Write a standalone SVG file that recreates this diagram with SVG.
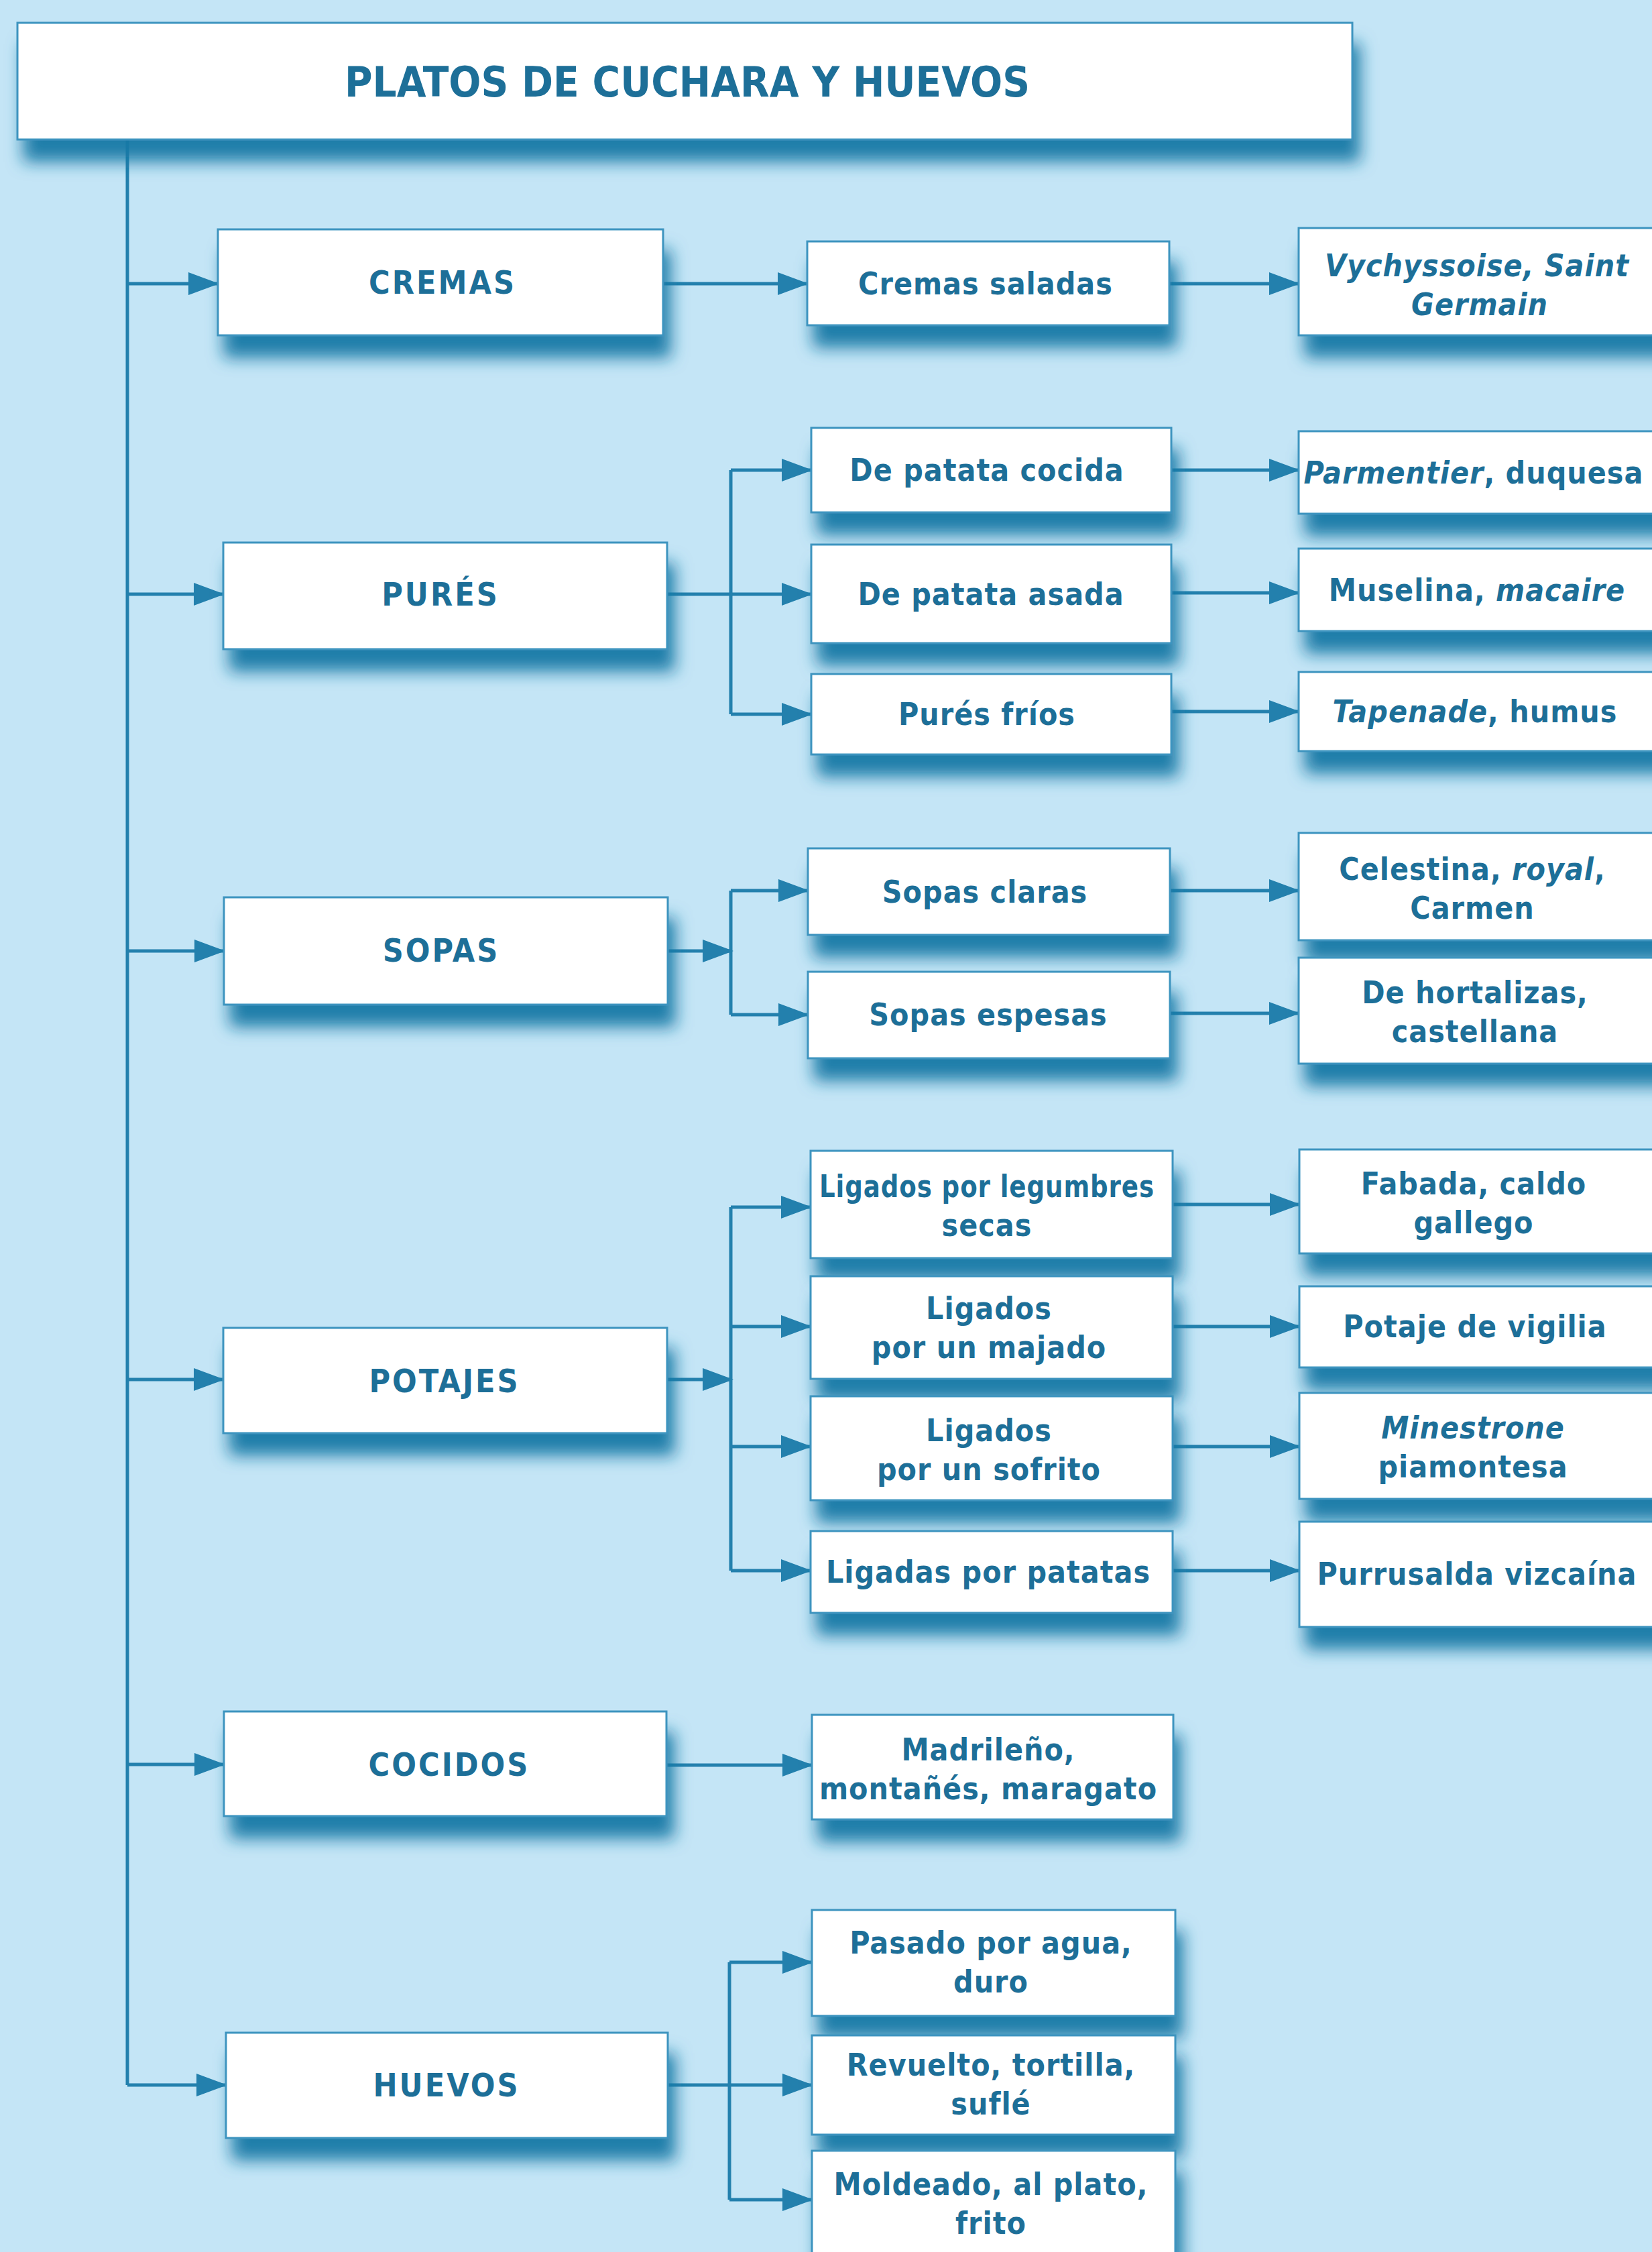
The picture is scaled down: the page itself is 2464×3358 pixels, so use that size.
<svg xmlns="http://www.w3.org/2000/svg" width="2464" height="3358" viewBox="0 0 2464 3358">
<defs>
<style>
.box{fill:#ffffff;stroke:#3d94bf;stroke-width:3;filter:url(#sh)}
.t{font-family:"Liberation Sans Narrow","DejaVu Sans Condensed","Liberation Sans",sans-serif;fill:#1d6f98;text-anchor:middle;font-weight:bold;font-size:46px;letter-spacing:1px}
.l1{font-size:48px;letter-spacing:3px}
.ttl{font-size:63px;letter-spacing:0px}
.i{font-style:italic}
.c{fill:none;stroke:#2380ad;stroke-width:5}
.a{marker-end:url(#ah)}
</style>
<filter id="sh" x="-10%" y="-20%" width="130%" height="200%">
<feGaussianBlur in="SourceAlpha" stdDeviation="12"/>
<feOffset dx="10" dy="32" result="b"/>
<feFlood flood-color="#1779a6" flood-opacity="0.95"/>
<feComposite in2="b" operator="in"/>
<feMerge><feMergeNode/><feMergeNode in="SourceGraphic"/></feMerge>
</filter>
<marker id="ah" markerUnits="userSpaceOnUse" markerWidth="46" markerHeight="34" refX="44" refY="17" orient="auto">
<path d="M0,0 L46,17 L0,34 z" fill="#2380ad"/>
</marker>
</defs>
<rect x="0" y="0" width="2464" height="3358" fill="#c4e5f6"/>

<g id="connectors">
<path class="c" d="M190,200 V3109"/>
<path class="c a" d="M190,423 H325"/>
<path class="c a" d="M190,886 H333"/>
<path class="c a" d="M190,1418 H334"/>
<path class="c a" d="M190,2057 H333"/>
<path class="c a" d="M190,2631 H334"/>
<path class="c a" d="M190,3109 H337"/>

<path class="c a" d="M989,423 H1204"/>
<path class="c a" d="M1744,423 H1937"/>

<path class="c a" d="M995,886 H1210"/>
<path class="c" d="M1090,701 V1065"/>
<path class="c a" d="M1090,701 H1210"/>
<path class="c a" d="M1090,1065 H1210"/>
<path class="c a" d="M1747,701 H1937"/>
<path class="c a" d="M1747,884 H1937"/>
<path class="c a" d="M1747,1061 H1937"/>

<path class="c a" d="M996,1418 H1092"/>
<path class="c" d="M1090,1328 V1513"/>
<path class="c a" d="M1090,1328 H1205"/>
<path class="c a" d="M1090,1513 H1205"/>
<path class="c a" d="M1745,1328 H1937"/>
<path class="c a" d="M1745,1511 H1937"/>

<path class="c a" d="M995,2057 H1092"/>
<path class="c" d="M1090,1800 V2342"/>
<path class="c a" d="M1090,1800 H1209"/>
<path class="c a" d="M1090,1978 H1209"/>
<path class="c a" d="M1090,2157 H1209"/>
<path class="c a" d="M1090,2342 H1209"/>
<path class="c a" d="M1749,1796 H1938"/>
<path class="c a" d="M1749,1978 H1938"/>
<path class="c a" d="M1749,2157 H1938"/>
<path class="c a" d="M1749,2342 H1938"/>

<path class="c a" d="M994,2632 H1211"/>

<path class="c a" d="M996,3109 H1211"/>
<path class="c" d="M1088,2926 V3280"/>
<path class="c a" d="M1088,2926 H1211"/>
<path class="c a" d="M1088,3280 H1211"/>
</g>

<g id="title"><rect class="box" x="26" y="34" width="1991" height="174"/><text class="t ttl" x="1025" y="144">PLATOS DE CUCHARA Y HUEVOS</text></g>

<g id="cremas"><rect class="box" x="325" y="342" width="664" height="158"/><text class="t l1" x="660" y="438">CREMAS</text></g>
<g id="pures"><rect class="box" x="333" y="809" width="662" height="159"/><text class="t l1" x="657" y="903">PURÉS</text></g>
<g id="sopas"><rect class="box" x="334" y="1338" width="662" height="160"/><text class="t l1" x="658" y="1434">SOPAS</text></g>
<g id="potajes"><rect class="box" x="333" y="1980" width="662" height="157"/><text class="t l1" x="663" y="2076">POTAJES</text></g>
<g id="cocidos"><rect class="box" x="334" y="2552" width="660" height="156"/><text class="t l1" x="670" y="2648">COCIDOS</text></g>
<g id="huevos"><rect class="box" x="337" y="3031" width="659" height="157"/><text class="t l1" x="666" y="3126">HUEVOS</text></g>

<g id="cremas-saladas"><rect class="box" x="1204" y="360" width="540" height="125"/><text class="t" x="1470" y="439">Cremas saladas</text></g>
<g id="vychyssoise"><rect class="box" x="1937" y="340" width="560" height="160"/><text class="t i" x="2203" y="412">Vychyssoise, Saint</text><text class="t i" x="2207" y="470">Germain</text></g>

<g id="patata-cocida"><rect class="box" x="1210" y="638" width="537" height="126"/><text class="t" x="1472" y="717">De patata cocida</text></g>
<g id="patata-asada"><rect class="box" x="1210" y="812" width="537" height="147"/><text class="t" x="1478" y="902">De patata asada</text></g>
<g id="pures-frios"><rect class="box" x="1210" y="1005" width="537" height="120"/><text class="t" x="1472" y="1081">Purés fríos</text></g>
<g id="parmentier"><rect class="box" x="1937" y="643" width="560" height="123"/><text class="t" x="2198" y="721"><tspan class="i">Parmentier</tspan>, duquesa</text></g>
<g id="muselina"><rect class="box" x="1937" y="818" width="560" height="123"/><text class="t" x="2203" y="896">Muselina, <tspan class="i">macaire</tspan></text></g>
<g id="tapenade"><rect class="box" x="1937" y="1002" width="560" height="118"/><text class="t" x="2200" y="1077"><tspan class="i">Tapenade</tspan>, humus</text></g>

<g id="sopas-claras"><rect class="box" x="1205" y="1265" width="540" height="129"/><text class="t" x="1469" y="1346">Sopas claras</text></g>
<g id="sopas-espesas"><rect class="box" x="1205" y="1449" width="540" height="129"/><text class="t" x="1474" y="1529">Sopas espesas</text></g>
<g id="celestina"><rect class="box" x="1937" y="1242" width="560" height="160"/><text class="t" x="2196" y="1312">Celestina, <tspan class="i">royal</tspan>,</text><text class="t" x="2196" y="1370">Carmen</text></g>
<g id="hortalizas"><rect class="box" x="1937" y="1428" width="560" height="158"/><text class="t" x="2200" y="1496">De hortalizas,</text><text class="t" x="2200" y="1554">castellana</text></g>

<g id="legumbres"><rect class="box" x="1209" y="1716" width="540" height="160"/><text class="t" x="1472" y="1785" textLength="500" lengthAdjust="spacingAndGlyphs">Ligados por legumbres</text><text class="t" x="1472" y="1843">secas</text></g>
<g id="majado"><rect class="box" x="1209" y="1903" width="540" height="153"/><text class="t" x="1475" y="1967">Ligados</text><text class="t" x="1475" y="2025">por un majado</text></g>
<g id="sofrito"><rect class="box" x="1209" y="2082" width="540" height="155"/><text class="t" x="1475" y="2149">Ligados</text><text class="t" x="1475" y="2207">por un sofrito</text></g>
<g id="patatas"><rect class="box" x="1209" y="2283" width="540" height="122"/><text class="t" x="1474" y="2360">Ligadas por patatas</text></g>
<g id="fabada"><rect class="box" x="1938" y="1714" width="560" height="155"/><text class="t" x="2198" y="1781">Fabada, caldo</text><text class="t" x="2198" y="1839">gallego</text></g>
<g id="potaje-vigilia"><rect class="box" x="1938" y="1918" width="560" height="121"/><text class="t" x="2200" y="1994">Potaje de vigilia</text></g>
<g id="minestrone"><rect class="box" x="1938" y="2077" width="560" height="158"/><text class="t" x="2197" y="2145"><tspan class="i">Minestrone</tspan></text><text class="t" x="2197" y="2203">piamontesa</text></g>
<g id="purrusalda"><rect class="box" x="1938" y="2269" width="560" height="157"/><text class="t" x="2203" y="2363">Purrusalda vizcaína</text></g>

<g id="madrileno"><rect class="box" x="1211" y="2557" width="539" height="156"/><text class="t" x="1474" y="2625">Madrileño,</text><text class="t" x="1474" y="2683">montañés, maragato</text></g>

<g id="pasado"><rect class="box" x="1211" y="2848" width="542" height="158"/><text class="t" x="1478" y="2913">Pasado por agua,</text><text class="t" x="1478" y="2971">duro</text></g>
<g id="revuelto"><rect class="box" x="1211" y="3035" width="542" height="148"/><text class="t" x="1478" y="3095">Revuelto, tortilla,</text><text class="t" x="1478" y="3153">suflé</text></g>
<g id="moldeado"><rect class="box" x="1211" y="3207" width="542" height="200"/><text class="t" x="1478" y="3273">Moldeado, al plato,</text><text class="t" x="1478" y="3331">frito</text></g>
</svg>
